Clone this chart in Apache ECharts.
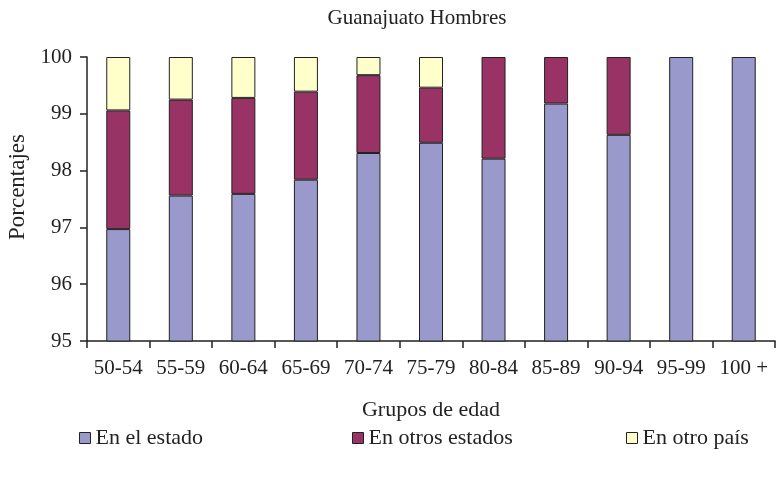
<!DOCTYPE html>
<html>
<head>
<meta charset="utf-8">
<script src="https://cdn.jsdelivr.net/npm/echarts@6/dist/echarts.min.js"></script>
<style>
    html, body { margin: 0; padding: 0; background: #fff; }
    #chart { width: 777px; height: 482px; }
</style>
</head>
<body>
<div id="chart"></div>
<script>
const categories = ['50-54', '55-59', '60-64', '65-69', '70-74', '75-79', '80-84', '85-89', '90-94', '95-99', '100 +']
const enElEstado = [96.97, 97.56, 97.59, 97.84, 98.31, 98.49, 98.21, 99.18, 98.63, 100, 100]
const enOtrosEstados = [2.09, 1.69, 1.69, 1.55, 1.37, 0.97, 1.79, 0.82, 1.37, 0, 0]
const enOtroPais = [0.94, 0.75, 0.72, 0.61, 0.32, 0.54, 0, 0, 0, 0, 0]

const font = '"Liberation Serif", "DejaVu Serif", serif'
const ink = '#222'

const chart = echarts.init(document.getElementById('chart'))

// zero-height segments would leave a border line on top of the stack
const noZero = arr => arr.map(v => (v === 0 ? '-' : v))

const barSeries = (name, data, color) => ({
    name,
    type: 'bar',
    stack: 'total',
    data: noZero(data),
    barWidth: 24,
    clip: true,
    itemStyle: { color, borderColor: ink, borderWidth: 1 },
    emphasis: { disabled: true }
})

const legendAt = (name, left) => ({
    data: [name],
    left,
    top: 422,
    itemWidth: 11,
    itemHeight: 11,
    itemGap: 6,
    icon: 'rect',
    itemStyle: { borderColor: ink, borderWidth: 1 },
    textStyle: { fontFamily: font, fontSize: 22, color: ink },
    selectedMode: false
})

chart.setOption({
    animation: false,
    title: {
        text: 'Guanajuato Hombres',
        left: 412,
        textAlign: 'center',
        top: 3,
        textStyle: { fontFamily: font, fontSize: 21, fontWeight: 'normal', color: ink }
    },
    legend: [
        legendAt('En el estado', 74),
        legendAt('En otros estados', 347),
        legendAt('En otro país', 621)
    ],
    grid: { left: 87, right: 2, top: 57, bottom: 141, outerBoundsMode: 'none', containLabel: false },
    xAxis: {
        type: 'category',
        data: categories,
        name: 'Grupos de edad',
        nameLocation: 'middle',
        nameGap: 58,
        nameTextStyle: { fontFamily: font, fontSize: 22, color: ink },
        axisLine: { lineStyle: { color: ink, width: 1.5 } },
        axisTick: { show: true, interval: 0, length: 7, lineStyle: { color: ink, width: 1.5 } },
        axisLabel: { interval: 0, fontFamily: font, fontSize: 21, color: ink, margin: 17 }
    },
    yAxis: {
        type: 'value',
        min: 95,
        max: 100,
        interval: 1,
        name: 'Porcentajes',
        nameLocation: 'middle',
        nameGap: 56,
        nameTextStyle: { fontFamily: font, fontSize: 23, color: ink, padding: [0, 0, 0, 24] },
        axisLine: { show: true, lineStyle: { color: ink, width: 1.5 } },
        axisTick: { show: true, length: 7, lineStyle: { color: ink, width: 1.5 } },
        splitLine: { show: false },
        axisLabel: { fontFamily: font, fontSize: 21, color: ink, margin: 15 }
    },
    series: [
        barSeries('En el estado', enElEstado, '#9999cc'),
        barSeries('En otros estados', enOtrosEstados, '#993366'),
        barSeries('En otro país', enOtroPais, '#ffffcc')
    ]
})
</script>
</body>
</html>
